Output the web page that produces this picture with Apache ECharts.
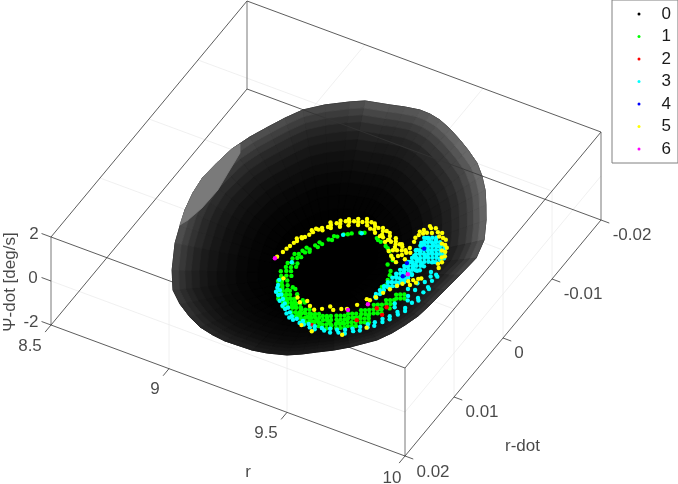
<!DOCTYPE html>
<html><head><meta charset="utf-8">
<style>html,body{margin:0;padding:0;background:#fff}#c{width:678px;height:484px}</style>
<script src="https://cdn.jsdelivr.net/npm/echarts@6/dist/echarts.min.js"></script>
</head><body><div id="c"></div>
<script>
// ---- tick values and labels
const rTicks = [8.5, 9, 9.5, 10];
const rTickLabels = ['8.5', '9', '9.5', '10'];
const rdTicks = [0.02, 0.01, 0, -0.01, -0.02];
const rdTickLabels = ['0.02', '0.01', '0', '-0.01', '-0.02'];
const psiTicks = [2, 0, -2];
const psiTickLabels = ['2', '0', '-2'];
const seriesNames = ['0', '1', '2', '3', '4', '5', '6'];
const seriesColors = ['#000000', '#00ff00', '#ff0000', '#00ffff', '#0000ff', '#ffff00', '#ff00ff'];
// ---- basin surface: silhouette in (r, r-dot), ring shrink, gray levels
const surfaceCentre = [9.27, 0];
const outlineR = [9.033,9.125,9.179,9.236,9.279,9.327,9.384,9.446,9.499,9.563,9.614,9.662,9.705,9.746,9.793,9.816,9.809,9.801,9.793,9.784,9.766,9.745,9.715,9.647,9.603,9.553,9.510,9.464,9.394,9.337,9.275,9.225,9.170,9.107,9.047,8.980,8.920,8.863,8.800,8.770,8.743,8.723,8.713,8.720,8.731,8.757,8.789,8.820,8.856,8.914,8.987];
const outlineRd = [-.01841,-.01909,-.01954,-.01987,-.01983,-.01953,-.01885,-.01790,-.01699,-.01574,-.01429,-.01262,-.01072,-.00878,-.00610,-.00337,-.00040,.00227,.00493,.00693,.00872,.01038,.01201,.01421,.01537,.01645,.01742,.01827,.01897,.01931,.01938,.01943,.01923,.01881,.01800,.01679,.01532,.01276,.00912,.00668,.00436,.00178,-.00077,-.00326,-.00579,-.00822,-.01038,-.01236,-.01426,-.01597,-.01756];
const outlineGray = [100,98,100,105,110,115,118,122,124,125,122,120,118,115,95,80,68,62,56,52,50,47,45,36,32,30,30,30,32,35,38,41,45,50,55,62,70,80,90,92,95,100,100,98,95,92,90,87,85,85,90];
const ringScale = [0,.1,.2,.3,.38,.46,.53,.6,.66,.72,.78,.83,.88,.92,.96,1];
const ringPsi = [-2,-1.8,-1.6,-1.4,-1.24,-1.08,-.94,-.8,-.68,-.56,-.44,-.34,-.24,-.16,-.08,0];
const ringGray = [0,0,0,.01,.03,.05,.09,.14,.19,.26,.34,.44,.56,.7,.85];
const highlightR = [8.744,8.731,8.720,8.713,8.723,8.743,8.767,8.780,8.793,8.796,8.783,8.768];
const highlightRd = [-.00683,-.00579,-.00326,-.00077,.00178,.00436,.00655,.00552,.00330,.00019,-.00249,-.00567];
// ---- points as [r, r-dot]; they lie near the lower end of Psi-dot
const pointPsi = -2;
const class0 = [[9.27,.0004],[9.31,-.0012],[9.24,.0018],[9.35,.0006],[9.29,.0030],[9.22,-.0006]];
const class1 = [
[9.537,-.0005],[9.548,0],[9.550,-.0007],[9.561,-.0002],[9.563,-.0009],[9.574,-.0004],
[9.519,.0007],[9.530,.0012],[9.532,.0005],[9.543,.0010],[9.545,.0003],[9.556,.0008],[9.553,.0016],
[9.492,.0019],[9.503,.0025],[9.514,.0030],[9.505,.0017],[9.516,.0023],[9.527,.0028],[9.518,.0015],[9.529,.0021],[9.540,.0026],
[9.465,.0032],[9.476,.0037],[9.486,.0043],[9.497,.0048],[9.478,.0030],[9.489,.0035],[9.499,.0041],[9.510,.0046],[9.491,.0028],[9.502,.0033],[9.512,.0039],[9.523,.0044],
[9.433,.0043],[9.444,.0048],[9.454,.0054],[9.465,.0059],[9.446,.0041],[9.457,.0046],[9.467,.0052],[9.478,.0057],[9.459,.0039],[9.470,.0044],[9.480,.0050],[9.491,.0055],
[9.400,.0051],[9.411,.0056],[9.421,.0062],[9.432,.0067],[9.413,.0049],[9.424,.0054],[9.434,.0060],[9.445,.0065],[9.426,.0047],[9.437,.0052],[9.447,.0058],[9.458,.0063],
[9.357,.0058],[9.368,.0063],[9.378,.0069],[9.389,.0074],[9.370,.0056],[9.381,.0061],[9.391,.0067],[9.402,.0072],[9.383,.0054],[9.394,.0059],[9.404,.0065],[9.415,.0070],
[9.313,.0061],[9.324,.0066],[9.334,.0072],[9.345,.0077],[9.326,.0059],[9.337,.0064],[9.347,.0070],[9.358,.0075],[9.339,.0057],[9.350,.0062],[9.360,.0068],[9.371,.0073],
[9.270,.0060],[9.281,.0065],[9.291,.0071],[9.302,.0076],[9.283,.0058],[9.294,.0063],[9.304,.0069],[9.315,.0074],[9.296,.0056],[9.307,.0061],[9.317,.0067],[9.328,.0072],
[9.225,.0057],[9.236,.0062],[9.246,.0068],[9.257,.0073],[9.238,.0055],[9.249,.0060],[9.259,.0066],[9.270,.0071],[9.251,.0053],[9.262,.0058],[9.272,.0064],[9.283,.0069],
[9.182,.0055],[9.195,.0053],[9.208,.0051],[9.220,.0049],[9.193,.0060],[9.206,.0058],[9.219,.0056],[9.231,.0054],[9.204,.0065],[9.217,.0063],[9.230,.0061],[9.242,.0059],
[9.144,.0047],[9.157,.0045],[9.170,.0043],[9.182,.0041],[9.155,.0052],[9.168,.0050],[9.181,.0048],[9.193,.0046],[9.166,.0057],[9.179,.0055],[9.192,.0053],[9.204,.0051],
[9.117,.0034],[9.130,.0032],[9.146,.0029],[9.131,.0040],[9.144,.0038],[9.160,.0035],[9.142,.0046],[9.155,.0044],[9.171,.0041],
[9.100,.0020],[9.117,.0017],[9.133,.0015],[9.114,.0026],[9.130,.0023],[9.147,.0021],
[9.105,.0012],[9.122,.0010],[9.138,.0007],[9.100,.0006],[9.116,.0004],[9.133,.0002],
[9.104,-.0002],[9.118,-.0005],[9.128,-.0008],[9.098,-.0009],[9.112,-.0011],
[9.115,-.0017],[9.128,-.0016],[9.120,-.0023],[9.135,-.0022],[9.141,-.0019],
[9.142,-.0030],[9.155,-.0029],[9.148,-.0036],[9.161,-.0035],
[9.170,-.0044],[9.182,-.0045],[9.178,-.0051],[9.190,-.0052],
[9.205,-.0058],[9.218,-.0060],[9.228,-.0063],[9.254,-.0068],[9.268,-.0070],
[9.331,-.0067],[9.322,-.0069],[9.345,-.0066],[9.385,-.0061],[9.372,-.0063],[9.398,-.0058],
[9.433,-.0048],[9.420,-.0052],[9.428,-.0040],[9.464,-.0027],[9.455,-.0033],[9.470,-.0020],[9.470,-.0008],[9.478,-.0012],
[9.182,.0035],[9.195,.0036],[9.215,.0042],[9.249,.0047],[9.262,.0049],
[9.445,.0050],[9.420,.0058],[9.395,.0063],[9.375,.0058],[9.350,.0066],[9.330,.0062],[9.310,.0066],[9.288,.0062],[9.265,.0058],[9.243,.0060],[9.225,.0052],[9.200,.0056],[9.175,.0050],[9.160,.0048],[9.150,.0041],[9.136,.0036],[9.125,.0028],[9.480,.0041],[9.505,.0036],[9.520,.0022],[9.465,.0045],[9.440,.0057],[9.410,.0066],[9.365,.0068],[9.340,.0070],[9.300,.0072],[9.275,.0068]];
const class2 = [[9.346,.0075],[9.478,.0047],[9.540,.0016],[9.546,.0028],[9.511,.0022]];
const class3 = [
[9.118,.0032],[9.128,.0039],[9.148,.0045],[9.140,.0049],[9.164,.0050],[9.182,.0055],[9.176,.0059],[9.200,.0060],[9.222,.0064],[9.216,.0067],[9.240,.0069],[9.257,.0073],[9.252,.0076],[9.280,.0074],[9.306,.0074],[9.300,.0078],[9.332,.0075],[9.358,.0075],[9.366,.0079],[9.386,.0074],[9.415,.0071],[9.425,.0076],[9.440,.0069],[9.466,.0065],[9.475,.0070],[9.487,.0060],[9.507,.0054],[9.516,.0059],[9.525,.0047],[9.542,.0041],[9.550,.0046],[9.558,.0033],[9.574,.0026],[9.582,.0030],[9.588,.0017],[9.602,.0008],[9.610,.0012],[9.610,-.0002],[9.617,-.0011],[9.625,-.0008],[9.619,-.0021],[9.620,-.0030],[9.628,-.0028],[9.616,-.0040],[9.613,-.0050],[9.622,-.0048],
[9.133,.0043],[9.156,.0052],[9.198,.0064],[9.232,.0072],[9.270,.0077],[9.318,.0078],[9.345,.0079],[9.400,.0076],[9.452,.0072],[9.496,.0063],[9.532,.0051],[9.566,.0037],[9.596,.0020],
[9.586,-.0020],[9.596,-.0035],[9.589,-.0051],[9.579,-.0009],[9.556,.0007],[9.566,.0012],[9.590,-.0003],[9.575,-.0030],[9.560,-.0018],[9.600,-.0045],
[9.111,.0003],[9.204,-.0057],[9.260,-.0068],
[9.475,.0008],[9.481,-.0001],[9.487,-.0011],[9.489,-.0019],[9.489,-.0028],[9.512,-.0021],[9.514,-.0028],[9.501,-.0038],[9.525,-.0035],[9.518,-.0041],[9.523,-.0028],[9.535,-.0038],[9.520,-.0048],[9.492,-.0047],[9.494,-.0054],[9.515,-.0052],[9.514,-.0060],[9.541,-.0046],[9.538,-.0057],[9.503,-.0062],[9.491,-.0064],[9.529,-.0068],[9.499,-.0072],[9.484,-.0073],[9.520,-.0078],[9.494,-.0083],[9.479,-.0084],[9.523,-.0087],[9.496,-.0092],[9.484,-.0093],[9.519,-.0095],[9.542,-.0088],[9.538,-.0077],[9.562,-.0084],[9.560,-.0077],[9.585,-.0078],[9.586,-.0071],[9.569,-.0065],
[9.483,-.0039],[9.494,-.0034],[9.505,-.0028],[9.516,-.0023],[9.486,-.0046],[9.496,-.0041],[9.507,-.0035],[9.518,-.0030],[9.529,-.0025],[9.488,-.0053],[9.499,-.0048],[9.509,-.0043],[9.520,-.0037],[9.531,-.0032],[9.490,-.0060],[9.501,-.0055],[9.512,-.0050],[9.522,-.0045],[9.533,-.0039],
[9.481,-.0072],[9.492,-.0067],[9.503,-.0062],[9.514,-.0057],[9.525,-.0052],[9.535,-.0046],[9.484,-.0080],[9.494,-.0074],[9.505,-.0069],[9.516,-.0064],[9.527,-.0059],[9.538,-.0054],[9.548,-.0048],
[9.475,-.0092],[9.486,-.0087],[9.497,-.0081],[9.507,-.0076],[9.518,-.0071],[9.529,-.0066],[9.540,-.0061],[9.551,-.0055],[9.488,-.0094],[9.499,-.0088],[9.510,-.0083],[9.520,-.0078],[9.531,-.0073],[9.542,-.0068],[9.553,-.0063],
[9.501,-.0096],[9.512,-.0090],[9.523,-.0085],[9.533,-.0080],[9.544,-.0075],[9.555,-.0070],[9.566,-.0064],[9.514,-.0098],[9.525,-.0092],[9.536,-.0087],[9.546,-.0082],[9.557,-.0077],[9.568,-.0072],[9.579,-.0066],
[9.538,-.0094],[9.549,-.0089],[9.559,-.0084],[9.570,-.0079],[9.581,-.0073],[9.562,-.0091],[9.572,-.0086],[9.583,-.0081],[9.594,-.0075],
[9.481,-.0032],[9.492,-.0027],[9.503,-.0021],[9.514,-.0016],[9.479,-.0025],[9.490,-.0019],[9.501,-.0014],[9.477,-.0017],[9.488,-.0012],[9.475,-.0010],[9.485,-.0005],[9.472,-.0003],[9.483,.0002],[9.470,.0004],[9.481,.0009]];
const class4 = [[9.504,-.0078],[9.487,-.0051],[9.509,-.0032]];
const class5 = [
[9.049,.0003],[9.055,-.0006],[9.062,-.0017],[9.058,-.0012],[9.071,-.0027],[9.066,-.0023],[9.086,-.0036],[9.080,-.0033],[9.099,-.0046],[9.094,-.0041],[9.117,-.0056],[9.110,-.0052],[9.125,-.0053],
[9.138,-.0064],[9.130,-.0067],[9.146,-.0060],[9.165,-.0070],[9.158,-.0074],[9.172,-.0066],[9.189,-.0077],[9.181,-.0080],[9.196,-.0072],[9.218,-.0081],[9.210,-.0085],[9.226,-.0077],[9.247,-.0085],[9.239,-.0089],[9.256,-.0081],
[9.284,-.0084],[9.276,-.0087],[9.290,-.0079],[9.323,-.0081],[9.315,-.0085],[9.330,-.0076],[9.359,-.0078],[9.350,-.0082],[9.367,-.0073],[9.392,-.0074],[9.384,-.0078],[9.400,-.0070],[9.428,-.0070],[9.420,-.0073],[9.436,-.0065],[9.457,-.0064],[9.448,-.0067],
[9.359,-.0068],[9.407,-.0061],[9.439,-.0056],[9.302,-.0075],[9.378,-.0071],[9.420,-.0063],[9.340,-.0073],
[9.327,-.0073],[9.363,-.0072],[9.405,-.0066],[9.416,-.0053],[9.449,-.0059],[9.449,-.0047],[9.470,-.0055],[9.413,-.0072],[9.275,-.0078],[9.470,-.0066],[9.430,-.0050],[9.395,-.0058],
[9.134,-.0060],[9.152,-.0069],[9.176,-.0076],[9.203,-.0080],[9.232,-.0083],[9.262,-.0087],[9.300,-.0083],[9.076,-.0034],[9.100,-.0052],[9.090,-.0048],[9.064,-.0030],[9.335,-.0083],
[9.456,-.0072],[9.453,-.0082],[9.450,-.0093],[9.453,-.0102],[9.471,-.0108],[9.504,-.0106],[9.536,-.0101],[9.562,-.0093],[9.581,-.0084],[9.598,-.0069],[9.462,-.0110],[9.487,-.0110],[9.520,-.0107],[9.550,-.0100],[9.575,-.0090],[9.592,-.0078],[9.603,-.0060],[9.446,-.0088],[9.444,-.0098],
[9.487,-.0102],[9.470,-.0100],[9.520,-.0101],[9.548,-.0093],[9.567,-.0084],[9.585,-.0075],[9.590,-.0065],[9.460,-.0097],
[9.467,.0015],[9.478,.0008],[9.490,-.0001],[9.502,-.0009],[9.516,-.0017],[9.528,-.0022],[9.540,-.0028],[9.553,-.0032],[9.566,-.0036],[9.575,-.0038],[9.569,-.0030],[9.556,-.0024],
[9.245,.0051],[9.288,.0051],[9.335,.0049],[9.374,.0045],[9.416,.0037],[9.438,.0027],[9.454,.0015],[9.266,.0046],[9.312,.0054],[9.355,.0042],[9.398,.0040],[9.225,.0046],
[9.312,.0080],[9.362,.0083],[9.470,.0073],[9.128,.0028],[9.530,.0052]];
const class6 = [[9.422,.0038],[9.471,.0021],[9.046,.0006],[9.520,-.0037]];

// ---- view of the 3-D box on the page
const view = {ox:51, oy:325, rx:354, ry:131, rdx:196, rdy:-236, psiy:-88};
function project(r, rd, psi){
  const u=(r-8.5)/1.5, v=(0.02-rd)/0.04, w=(psi+2)/4;
  return [view.ox+u*view.rx+v*view.rdx, view.oy+u*view.ry+v*view.rdy+w*view.psiy];
}
const seg=(a,b)=>[...project(a[0],a[1],a[2]),...project(b[0],b[1],b[2])];
const R0=8.5,R1=10,D0=0.02,D1=-0.02,P0=-2,P1=2;
const gridSegs=[];
[9,9.5].forEach(r=>{gridSegs.push(seg([r,D0,P1],[r,D1,P1]));gridSegs.push(seg([r,D0,P0],[r,D0,P1]));});
[0.01,0,-0.01].forEach(d=>{gridSegs.push(seg([R0,d,P1],[R1,d,P1]));gridSegs.push(seg([R1,d,P0],[R1,d,P1]));});
gridSegs.push(seg([R0,D0,0],[R1,D0,0]));gridSegs.push(seg([R1,D0,0],[R1,D1,0]));
const backSegs=[seg([R0,D0,P1],[R1,D0,P1]),seg([R1,D0,P1],[R1,D1,P1]),seg([R1,D1,P1],[R0,D1,P1]),seg([R0,D1,P1],[R0,D0,P1])];
const vertSegs=[seg([R0,D0,P0],[R0,D0,P1]),seg([R1,D0,P0],[R1,D0,P1]),seg([R1,D1,P0],[R1,D1,P1])];
const frontSegs=[seg([R0,D0,P0],[R1,D0,P0]),seg([R1,D0,P0],[R1,D1,P0]),seg([R1,D1,P0],[R0,D1,P0]),seg([R0,D1,P0],[R0,D0,P0])];
const tickSegs=[];
rTicks.forEach(r=>tickSegs.push(seg([r,D0,P0],[r,0.0212,P0])));
rdTicks.forEach(d=>tickSegs.push(seg([R1,d,P0],[10.035,d,P0])));
psiTicks.forEach(p=>tickSegs.push(seg([R0,D0,p],[8.46,D0,p])));
const frontVert=[seg([R0,D1,P0],[R0,D1,P1])];

function lineSeries(segs,color,width,z){
  return {type:'custom',coordinateSystem:'cartesian2d',z,silent:true,clip:false,animation:false,data:segs,encode:{x:0,y:1},
    renderItem:(p,api)=>{
      const s=segs[p.dataIndex],a=api.coord([s[0],s[1]]),b=api.coord([s[2],s[3]]);
      return {type:'line',shape:{x1:a[0],y1:a[1],x2:b[0],y2:b[1]},style:{stroke:color,lineWidth:width,fill:null,opacity:1}};
    }};
}
// facets of the surface: a black body first, then the shaded facets
const facets=[{pts:outlineR.map((r,i)=>project(r,outlineRd[i],0)),col:'rgb(0,0,0)'}];
const vtx=(i,j)=>{
  const s=ringScale[i];
  return project(surfaceCentre[0]+s*(outlineR[j]-surfaceCentre[0]),surfaceCentre[1]+s*(outlineRd[j]-surfaceCentre[1]),ringPsi[i]);
};
for(let i=0;i<ringGray.length;i++)for(let j=0;j<outlineR.length;j++){
  const k=(j+1)%outlineR.length,g=Math.round(outlineGray[j]*ringGray[i]);
  if(g<1)continue;
  facets.push({pts:[vtx(i,j),vtx(i,k),vtx(i+1,k),vtx(i+1,j)],col:`rgb(${g},${g},${g})`});
}
facets.push({pts:highlightR.map((r,i)=>project(r,highlightRd[i],0)),col:'rgb(122,122,122)'});
const facetSeries={type:'custom',coordinateSystem:'cartesian2d',z:3,silent:true,clip:false,animation:false,
  data:facets.map(f=>[f.pts[0][0],f.pts[0][1]]),encode:{x:0,y:1},
  renderItem:(p,api)=>{
    const f=facets[p.dataIndex];
    return {type:'polygon',shape:{points:f.pts.map(q=>api.coord(q))},style:{fill:f.col,stroke:f.col,lineWidth:.8,opacity:1}};
  }};
const dataOf=c=>c.map(q=>project(q[0],q[1],pointPsi));
const classes=[class0,class1,class2,class3,class4,class5,class6];
const scatterSeries=classes.map((c,i)=>({type:'scatter',name:seriesNames[i],data:dataOf(c),symbol:'circle',symbolSize:4.4,
  itemStyle:{color:seriesColors[i],opacity:1},z:10+i,silent:true,clip:false,animation:false,large:false}));
// text marks
const font={fontFamily:'"Liberation Sans",Arial,sans-serif',fontSize:17,color:'#1a1a1a'};
function textSeries(items){
  return {type:'scatter',symbolSize:0,z:20,silent:true,clip:false,data:items.map(t=>({value:t.at,
    label:{show:true,position:'inside',formatter:t.text,offset:t.off,rotate:t.rot||0,align:'center',verticalAlign:'middle',...font}}))};
}
const rOff=[[-21,21],[-14,21],[-21,21],[-13,22]];
const dOff=[[28,16],[28,15],[16,15],[31,15],[31,15]];
const pOff=[[-17,-3],[-18,-3],[-20,-3]];
const texts=[
 ...rTicks.map((r,i)=>({at:project(r,D0,P0),text:rTickLabels[i],off:rOff[i]})),
 ...rdTicks.map((d,i)=>({at:project(R1,d,P0),text:rdTickLabels[i],off:dOff[i]})),
 ...psiTicks.map((p,i)=>({at:project(R0,D0,p),text:psiTickLabels[i],off:pOff[i]})),
 {at:project(9.25,D0,P0),text:'r',off:[20,82]},
 {at:project(R1,0.005,P0),text:'r-dot',off:[44,79]},
 {at:project(R0,D0,0),text:'\u03A8-dot [deg/s]',off:[-1,-41],rot:90}
];
const chart=echarts.init(document.getElementById('c'),null,{renderer:'canvas'});
chart.setOption({
 animation:false,
 grid:{left:0,right:0,top:0,bottom:0},
 xAxis:{type:'value',min:0,max:678,show:false},
 yAxis:{type:'value',min:0,max:484,inverse:true,show:false},
 legend:{data:seriesNames,orient:'vertical',left:612,top:0,padding:[4,7,4,25.5],itemWidth:3,itemHeight:3,itemGap:2.5,icon:'circle',
   borderColor:'#808080',borderWidth:1,backgroundColor:'#fff',selectedMode:false,z:30,
   textStyle:{...font,lineHeight:20,padding:[0,0,0,16]}},
 series:[
  lineSeries(gridSegs,'#ececec',0.8,1),
  lineSeries(backSegs,'#333',0.8,2),
  lineSeries(vertSegs,'#555',0.8,2),
  facetSeries,
  lineSeries(frontSegs,'#333',0.8,5),
  lineSeries(frontVert,'#555',0.8,5),
  lineSeries(tickSegs,'#333',0.8,5),
  ...scatterSeries,
  textSeries(texts)
 ]
});
</script></body></html>
